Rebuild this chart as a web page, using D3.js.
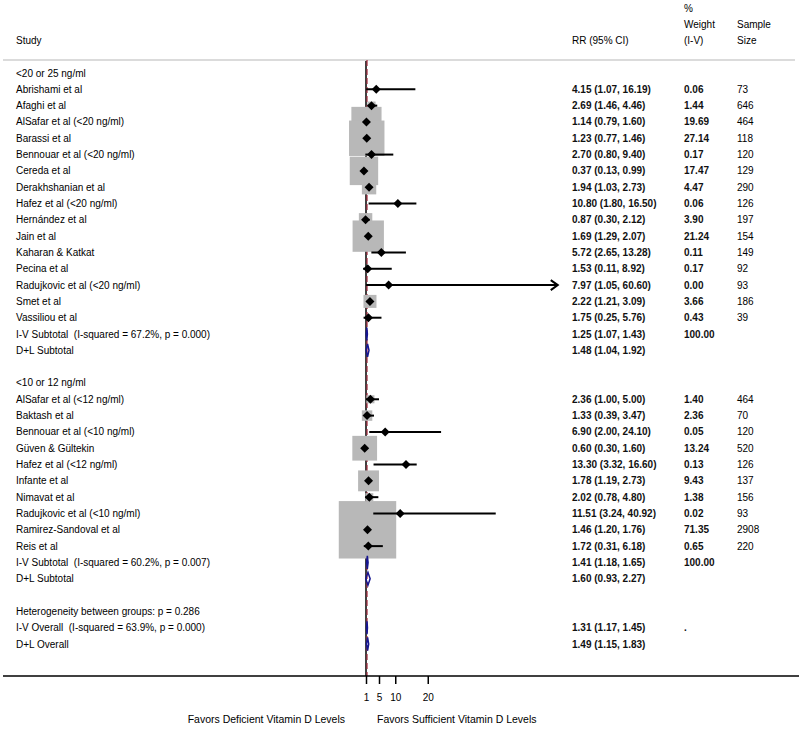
<!DOCTYPE html>
<html>
<head>
<meta charset="utf-8">
<script src="https://cdn.jsdelivr.net/npm/d3@7"></script>
<style>
  body { margin: 0; background: #fff; }
  text { font-family: "Liberation Sans", Arial, sans-serif; font-size: 10px; fill: #000; white-space: pre; }
  text.rr, text.wt { font-weight: bold; fill: #111; }
</style>
</head>
<body>
<svg id="chart" width="799" height="729"></svg>
<script>
// one entry per row of the plot, top to bottom
const rowLabels = [
  "<20 or 25 ng/ml",
  "Abrishami et al", "Afaghi et al", "AlSafar et al (<20 ng/ml)", "Barassi et al",
  "Bennouar et al (<20 ng/ml)", "Cereda et al", "Derakhshanian et al", "Hafez et al (<20 ng/ml)",
  "Hernández et al", "Jain et al", "Kaharan & Katkat", "Pecina et al",
  "Radujkovic et al (<20 ng/ml)", "Smet et al", "Vassiliou et al",
  "I-V Subtotal  (I-squared = 67.2%, p = 0.000)", "D+L Subtotal",
  "",
  "<10 or 12 ng/ml",
  "AlSafar et al (<12 ng/ml)", "Baktash et al", "Bennouar et al (<10 ng/ml)", "Güven & Gültekin",
  "Hafez et al (<12 ng/ml)", "Infante et al", "Nimavat et al", "Radujkovic et al (<10 ng/ml)",
  "Ramirez-Sandoval et al", "Reis et al",
  "I-V Subtotal  (I-squared = 60.2%, p = 0.007)", "D+L Subtotal",
  "",
  "Heterogeneity between groups: p = 0.286",
  "I-V Overall  (I-squared = 63.9%, p = 0.000)", "D+L Overall"
];
// "h" header, "s" study, "p" pooled, "" text only
const rowKind = [
  "h", "s","s","s","s","s","s","s","s","s","s","s","s","s","s","s", "p","p", "",
  "h", "s","s","s","s","s","s","s","s","s","s", "p","p", "",
  "", "p","p"
];
const rr = [
  null, 4.15, 2.69, 1.14, 1.23, 2.70, 0.37, 1.94, 10.80, 0.87, 1.69, 5.72, 1.53, 7.97, 2.22, 1.75, 1.25, 1.48, null,
  null, 2.36, 1.33, 6.90, 0.60, 13.30, 1.78, 2.02, 11.51, 1.46, 1.72, 1.41, 1.60, null,
  null, 1.31, 1.49
];
const ciLow = [
  null, 1.07, 1.46, 0.79, 0.77, 0.80, 0.13, 1.03, 1.80, 0.30, 1.29, 2.65, 0.11, 1.05, 1.21, 0.25, 1.07, 1.04, null,
  null, 1.00, 0.39, 2.00, 0.30, 3.32, 1.19, 0.78, 3.24, 1.20, 0.31, 1.18, 0.93, null,
  null, 1.17, 1.15
];
const ciHigh = [
  null, 16.19, 4.46, 1.60, 1.46, 9.40, 0.99, 2.73, 16.50, 2.12, 2.07, 13.28, 8.92, 60.60, 3.09, 5.76, 1.43, 1.92, null,
  null, 5.00, 3.47, 24.10, 1.60, 16.60, 2.73, 4.80, 40.92, 1.76, 6.18, 1.65, 2.27, null,
  null, 1.45, 1.83
];
const weightPct = [
  null, 0.06, 1.44, 19.69, 27.14, 0.17, 17.47, 4.47, 0.06, 3.90, 21.24, 0.11, 0.17, 0.00, 3.66, 0.43, 100.00, null, null,
  null, 1.40, 2.36, 0.05, 13.24, 0.13, 9.43, 1.38, 0.02, 71.35, 0.65, 100.00, null, null,
  null, ".", null
];
const sampleSize = [
  null, 73, 646, 464, 118, 120, 129, 290, 126, 197, 154, 149, 92, 93, 186, 39, null, null, null,
  null, 464, 70, 120, 520, 126, 137, 156, 93, 2908, 220, null, null, null,
  null, null, null
];
const tickValues = [1, 5, 10, 20];
const overallIV = 1.31;
const axisMax = 60;

const svg = d3.select("#chart");
const W = 799;

const x = d3.scaleLinear().domain([1, 20]).range([366, 427.75]);
const y = d3.scaleLinear().domain([0, rowLabels.length - 1]).range([73, 644]);
const axisY = 676;
const boxK = 6.8;

// header
const header = svg.append("g");
header.append("text").attr("x", 16).attr("y", 44).text("Study");
header.append("text").attr("x", 572).attr("y", 44).text("RR (95% CI)");
header.append("text").attr("x", 684).attr("y", 12).text("%");
header.append("text").attr("x", 684).attr("y", 28).text("Weight");
header.append("text").attr("x", 684).attr("y", 44).text("(I-V)");
header.append("text").attr("x", 737).attr("y", 28).text("Sample");
header.append("text").attr("x", 737).attr("y", 44).text("Size");

svg.append("line")
  .attr("x1", 3).attr("x2", 795).attr("y1", 60).attr("y2", 60)
  .attr("stroke", "#cfcfcf").attr("stroke-width", 1.5);

const rows = rowLabels.map((label, i) => ({
  i, label, kind: rowKind[i], est: rr[i], lo: ciLow[i], hi: ciHigh[i],
  w: weightPct[i], n: sampleSize[i]
}));

// null line
svg.append("line")
  .attr("x1", x(1)).attr("x2", x(1)).attr("y1", 61).attr("y2", axisY)
  .attr("stroke", "#000").attr("stroke-width", 1.5);

// overall effect line
svg.append("line")
  .attr("x1", x(overallIV)).attr("x2", x(overallIV)).attr("y1", 60).attr("y2", axisY)
  .attr("stroke", "#a0283a").attr("stroke-width", 1.2)
  .attr("stroke-dasharray", "6,3");

const studies = rows.filter(d => d.kind === "s");

// weight boxes
svg.append("g").selectAll("rect")
  .data(studies.filter(d => d.w > 0))
  .join("rect")
  .attr("x", d => x(d.est) - boxK * Math.sqrt(d.w) / 2)
  .attr("y", d => y(d.i) - boxK * Math.sqrt(d.w) / 2)
  .attr("width", d => boxK * Math.sqrt(d.w))
  .attr("height", d => boxK * Math.sqrt(d.w))
  .attr("fill", "#b8b8b8");

// confidence intervals
const ci = svg.append("g").attr("stroke", "#000").attr("stroke-width", 2).attr("fill", "none");
ci.selectAll("line")
  .data(studies)
  .join("line")
  .attr("x1", d => x(d.lo))
  .attr("x2", d => x(Math.min(d.hi, axisMax)))
  .attr("y1", d => y(d.i)).attr("y2", d => y(d.i));
ci.selectAll("path")
  .data(studies.filter(d => d.hi > axisMax))
  .join("path")
  .attr("d", d => {
    const ax = x(axisMax), ay = y(d.i);
    return `M${ax - 7},${ay - 5}L${ax},${ay}L${ax - 7},${ay + 5}`;
  });

// point estimates
const dm = 4.5;
svg.append("g").selectAll("path")
  .data(studies)
  .join("path")
  .attr("d", d => {
    const cx = x(d.est), cy = y(d.i);
    return `M${cx - dm},${cy}L${cx},${cy - dm}L${cx + dm},${cy}L${cx},${cy + dm}Z`;
  })
  .attr("fill", "#000");

// pooled diamonds
svg.append("g").selectAll("path")
  .data(rows.filter(d => d.kind === "p"))
  .join("path")
  .attr("d", d => {
    const cy = y(d.i), h = 6.5;
    return `M${x(d.lo)},${cy}L${x(d.est)},${cy - h}L${x(d.hi)},${cy}L${x(d.est)},${cy + h}Z`;
  })
  .attr("fill", "none").attr("stroke", "#161690").attr("stroke-width", 1.5);

// text columns
const txt = svg.append("g");
txt.selectAll("text.lab")
  .data(rows.filter(d => d.label))
  .join("text").attr("class", "lab")
  .attr("x", 16).attr("y", d => y(d.i)).attr("dy", "0.35em")
  .text(d => d.label);
txt.selectAll("text.rr")
  .data(rows.filter(d => d.est != null))
  .join("text").attr("class", "rr")
  .attr("x", 572).attr("y", d => y(d.i)).attr("dy", "0.35em")
  .text(d => `${d.est.toFixed(2)} (${d.lo.toFixed(2)}, ${d.hi.toFixed(2)})`);
txt.selectAll("text.wt")
  .data(rows.filter(d => d.w != null))
  .join("text").attr("class", "wt")
  .attr("x", 684).attr("y", d => y(d.i)).attr("dy", "0.35em")
  .text(d => typeof d.w === "number" ? d.w.toFixed(2) : d.w);
txt.selectAll("text.n")
  .data(rows.filter(d => d.n != null))
  .join("text").attr("class", "n")
  .attr("x", 737).attr("y", d => y(d.i)).attr("dy", "0.35em")
  .text(d => d.n);

// axis
svg.append("line")
  .attr("x1", 3).attr("x2", W).attr("y1", axisY).attr("y2", axisY)
  .attr("stroke", "#000").attr("stroke-width", 1.5);
const ax = svg.append("g")
  .attr("transform", `translate(0,${axisY})`)
  .call(d3.axisBottom(x).tickValues(tickValues).tickSize(8).tickPadding(10).tickFormat(d3.format("d")));
ax.select(".domain").remove();
ax.selectAll(".tick line").attr("stroke-width", 1.5);
ax.selectAll(".tick text").style("font-family", "Liberation Sans, Arial, sans-serif").style("font-size", "10px");

svg.append("text")
  .attr("x", 345).attr("y", 723).attr("text-anchor", "end")
  .style("font-size", "10.5px")
  .text("Favors Deficient Vitamin D Levels");
svg.append("text")
  .attr("x", 377).attr("y", 723)
  .style("font-size", "10.5px")
  .text("Favors Sufficient Vitamin D Levels");
</script>
</body>
</html>
